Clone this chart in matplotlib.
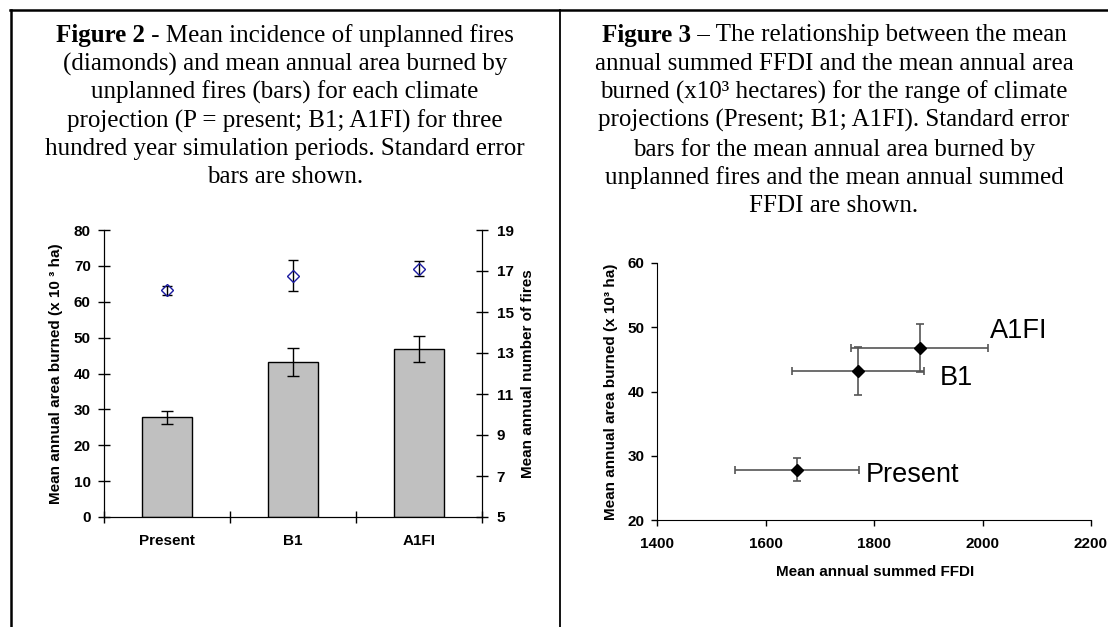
import matplotlib
matplotlib.use("Agg")
import matplotlib.pyplot as plt
from matplotlib.lines import Line2D
import numpy as np

# climate projections
scenarios = ["Present", "B1", "A1FI"]
# mean annual area burned (x10^3 ha) and standard error
area_burned = [27.8, 43.2, 46.8]
area_se = [1.8, 3.8, 3.7]
# mean annual number of fires and standard error
fire_count = [16.07, 16.77, 17.11]
fire_se = [0.22, 0.75, 0.36]
# mean annual summed FFDI and standard error
ffdi = [1658, 1771, 1884]
ffdi_se = [115, 122, 126]

cap2_head = "Figure 2"
cap2 = [" - Mean incidence of unplanned fires",
        "(diamonds) and mean annual area burned by",
        "unplanned fires (bars) for each climate",
        "projection (P = present; B1; A1FI) for three",
        "hundred year simulation periods. Standard error",
        "bars are shown."]
cap3_head = "Figure 3"
cap3 = [" \u2013 The relationship between the mean",
        "annual summed FFDI and the mean annual area",
        "burned (x10\u00b3 hectares) for the range of climate",
        "projections (Present; B1; A1FI). Standard error",
        "bars for the mean annual area burned by",
        "unplanned fires and the mean annual summed",
        "FFDI are shown."]

W, H = 1108, 627
plt.rcParams['font.family'] = ['Liberation Sans', 'DejaVu Sans']
fig = plt.figure(figsize=(W / 100, H / 100), dpi=100)

# panel frame
fig.add_artist(Line2D([10 / W, 1], [1 - 9.5 / H] * 2, color='black', lw=1.8))
fig.add_artist(Line2D([10.5 / W] * 2, [0, 1 - 9.5 / H], color='black', lw=1.8))
fig.add_artist(Line2D([560 / W] * 2, [0, 1 - 9.5 / H], color='black', lw=1.3))

renderer = fig.canvas.get_renderer()


def caption(head, lines, xc):
    for i, line in enumerate(lines):
        y = 1 - (33 + 28.4 * i) / H
        kw = dict(fontsize=18, family='Liberation Serif', va='center_baseline')
        if i == 0:
            t1 = fig.text(0, y, head, fontweight='bold', ha='left', **kw)
            t2 = fig.text(0, y, line, ha='left', **kw)
            w1 = t1.get_window_extent(renderer).width
            w2 = t2.get_window_extent(renderer).width
            x0 = xc - (w1 + w2) / 2
            t1.set_x(x0 / W)
            t2.set_x((x0 + w1) / W)
        else:
            fig.text(xc / W, y, line, ha='center', **kw)


caption(cap2_head, cap2, 285)
caption(cap3_head, cap3, 834)

tick_size = 11
label_size = 11

# ---- Figure 2: bars + diamonds
ax = fig.add_axes([104 / W, 1 - 517 / H, 378 / W, 287 / H])
x = np.arange(len(scenarios))
ax.bar(x, area_burned, width=0.4, color='#c0c0c0', edgecolor='black', lw=1, zorder=2)
ax.errorbar(x, area_burned, yerr=area_se, fmt='none', ecolor='black',
            elinewidth=1, capsize=4, capthick=1, zorder=3)
ax.set_xlim(-0.5, 2.5)
ax.set_ylim(0, 80)
ax.set_yticks(range(0, 81, 10))
ax.set_xticks([-0.5, 0.5, 1.5, 2.5])
ax.set_xticklabels([])
ax.set_xticks(x, minor=True)
ax.set_xticklabels(scenarios, minor=True, fontsize=tick_size, fontweight='bold')
ax.tick_params(axis='x', which='minor', length=0, pad=12)
ax.tick_params(which='major', direction='inout', length=9, width=1, pad=5)
for lab in ax.get_yticklabels():
    lab.set_fontsize(tick_size)
    lab.set_fontweight('bold')
ax.spines['top'].set_visible(False)
ax.set_ylabel("Mean annual area burned (x 10 \u00b3 ha)", fontsize=label_size, fontweight='bold')
ax.yaxis.set_label_coords(-0.108, 0.5)

ax2 = ax.twinx()
ax2.set_ylim(5, 19)
ax2.set_yticks(range(5, 20, 2))
ax2.errorbar(x, fire_count, yerr=fire_se, fmt='D', mfc='none', mec='#1a1aa0',
             mew=1, ms=6, ecolor='black', elinewidth=1, capsize=3.5, capthick=1)
ax2.tick_params(direction='inout', length=9, width=1, pad=6)
for lab in ax2.get_yticklabels():
    lab.set_fontsize(tick_size)
    lab.set_fontweight('bold')
ax2.spines['top'].set_visible(False)
ax2.set_ylabel("Mean annual number of fires", fontsize=label_size, fontweight='bold')
ax2.yaxis.set_label_coords(1.103, 0.5)

# ---- Figure 3: FFDI vs area burned
ax3 = fig.add_axes([657 / W, 1 - 520 / H, 434 / W, 257 / H])
ax3.errorbar(ffdi, area_burned, xerr=ffdi_se, yerr=area_se, fmt='D', color='black',
             ms=6, ecolor='#555555', elinewidth=1.2, capsize=3, capthick=1.2)
ax3.set_xlim(1400, 2200)
ax3.set_ylim(20, 60)
ax3.set_xticks(range(1400, 2201, 200))
ax3.set_yticks(range(20, 61, 10))
ax3.tick_params(direction='out', length=4, width=1)
ax3.tick_params(axis='x', pad=8)
ax3.tick_params(axis='y', pad=5)
for lab in ax3.get_xticklabels() + ax3.get_yticklabels():
    lab.set_fontsize(tick_size)
    lab.set_fontweight('bold')
ax3.spines['top'].set_visible(False)
ax3.spines['right'].set_visible(False)
ax3.set_xlabel("Mean annual summed FFDI", fontsize=label_size, fontweight='bold')
ax3.xaxis.set_label_coords(0.502, -0.175)
ax3.set_ylabel("Mean annual area burned (x 10\u00b3 ha)", fontsize=label_size, fontweight='bold')
ax3.yaxis.set_label_coords(-0.090, 0.5)

label_pos = [(1785, 27.0), (1922, 42.1), (2014, 49.4)]
for name, (lx, ly) in zip(scenarios, label_pos):
    ax3.text(lx, ly, name, fontsize=19.5, va='center', ha='left')

fig.savefig("out.png", dpi=100)
